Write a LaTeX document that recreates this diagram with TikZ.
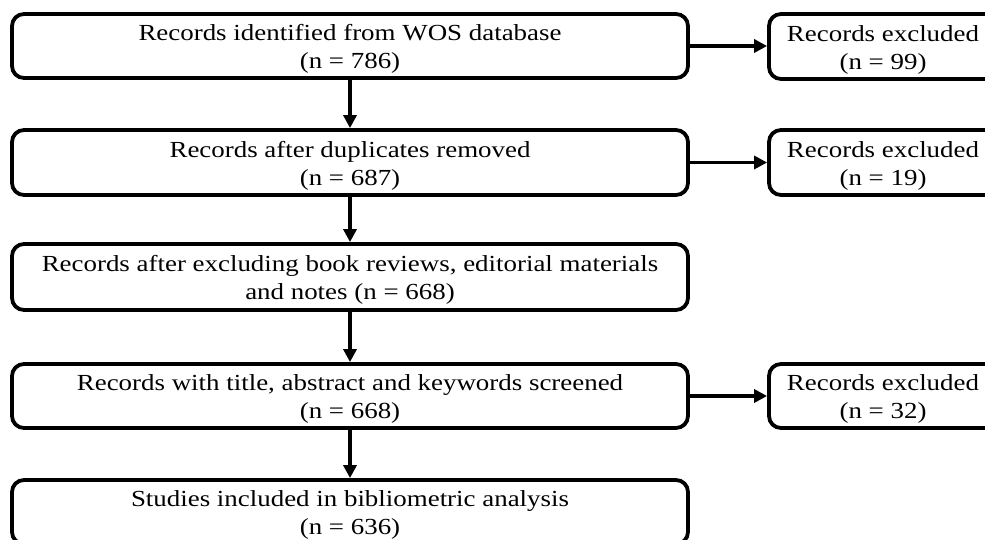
\documentclass[tikz,border=0pt]{standalone}
\usepackage{fontspec}
\setmainfont{Liberation Serif}[FakeStretch=1.17]
\usetikzlibrary{arrows.meta}
\tikzset{
  box/.style={draw=black, line width=3.8pt, rounded corners=12pt, fill=white, inner sep=0pt},
  mainbox/.style={box, minimum width=676pt},
  sidebox/.style={box, minimum width=228pt},
  txt/.style={align=center, inner sep=0pt, font=\fontsize{23}{28}\selectfont, text=black},
  arr/.style={line width=3.8pt, -{Triangle[length=13pt,width=13pt]}}
}
\begin{document}
\begin{tikzpicture}[x=1pt,y=-1pt]
\useasboundingbox (0,0) rectangle (985,540);
\clip (0,0) rectangle (985,540);
\node[mainbox, minimum height=64pt] (m1) at (350,46) {};
\node[mainbox, minimum height=65pt] (m2) at (350,162.5) {};
\node[mainbox, minimum height=66pt] (m3) at (350,277) {};
\node[mainbox, minimum height=64pt] (m4) at (350,396) {};
\node[mainbox, minimum height=64pt] (m5) at (350,512) {};
\node[sidebox, minimum height=65pt] (s1) at (883,46.5) {};
\node[sidebox, minimum height=65pt] (s2) at (883,162.5) {};
\node[sidebox, minimum height=64pt] (s3) at (883,396) {};
\node[txt] (t1) at ([yshift=-3pt]m1.center) {Records identified from WOS database\\(n = 786)};
\node[txt] (t2) at ([yshift=-3pt]m2.center) {Records after duplicates removed\\(n = 687)};
\node[txt] (t3) at ([yshift=-3pt]m3.center) {Records after excluding book reviews, editorial materials\\and notes (n = 668)};
\node[txt] (t4) at ([yshift=-3pt]m4.center) {Records with title, abstract and keywords screened\\(n = 668)};
\node[txt] (t5) at ([yshift=-3pt]m5.center) {Studies included in bibliometric analysis\\(n = 636)};
\node[txt] (u1) at ([yshift=-3pt]s1.center) {Records excluded\\(n = 99)};
\node[txt] (u2) at ([yshift=-3pt]s2.center) {Records excluded\\(n = 19)};
\node[txt] (u3) at ([yshift=-3pt]s3.center) {Records excluded\\(n = 32)};
\draw[arr] (m1) -- (m2);
\draw[arr] (m2) -- (m3);
\draw[arr] (m3) -- (m4);
\draw[arr] (m4) -- (m5);
\draw[arr] (m1.east) -- (s1.west |- m1.east);
\draw[arr] (m2.east) -- (s2.west |- m2.east);
\draw[arr] (m4.east) -- (s3.west |- m4.east);
\end{tikzpicture}
\end{document}
